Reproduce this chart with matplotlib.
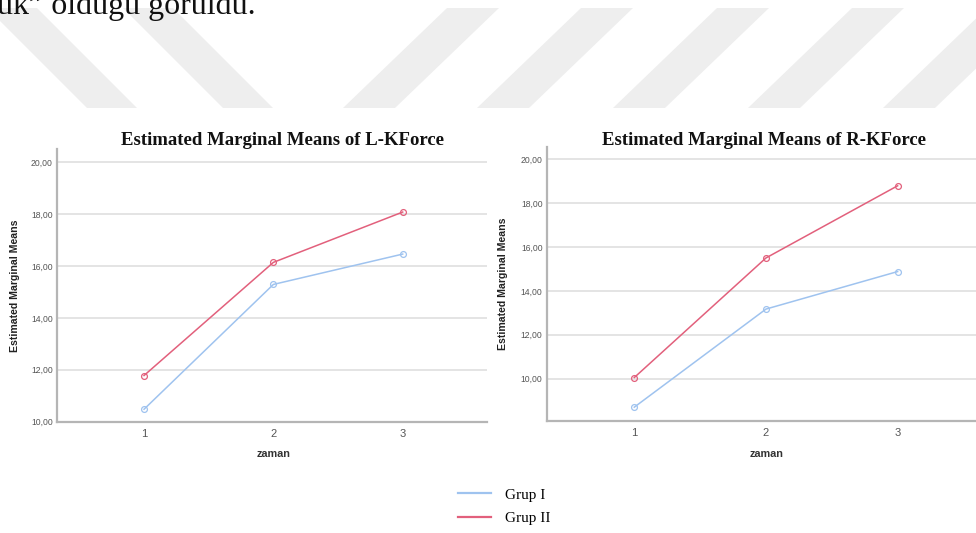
import matplotlib
matplotlib.use("Agg")
import matplotlib.pyplot as plt
from matplotlib.lines import Line2D
from matplotlib.patches import Polygon

# ---------------- data ----------------
zaman = [1, 2, 3]
xtick_labels = ["1", "2", "3"]
yticks = [10, 12, 14, 16, 18, 20]
groups = ["Grup I", "Grup II"]

l_grup1 = [10.48, 15.29, 16.46]
l_grup2 = [11.78, 16.14, 18.08]
r_grup1 = [8.70, 13.17, 14.88]
r_grup2 = [10.05, 15.50, 18.79]

titles = ["Estimated Marginal Means of L-KForce", "Estimated Marginal Means of R-KForce"]
ylabel = "Estimated Marginal Means"
xlabel = "zaman"
top_text = "uk\u201d olduğu görüldü."

# ---------------- style ----------------
W, H = 976, 533
blue = "#9fc3ef"
red = "#e2607c"
grid_c = "#dcdcdc"
spine_c = "#b5b5b5"
tick_c = "#555555"
sans = ["Liberation Sans", "DejaVu Sans"]
serif = ["Liberation Serif", "DejaVu Serif"]

fig = plt.figure(figsize=(W / 100, H / 100), dpi=100)
fig.patch.set_facecolor("white")

# watermark stripes (background decoration)
bg = fig.add_axes([0, 0, 1, 1], zorder=-10)
bg.set_xlim(0, W)
bg.set_ylim(H, 0)
bg.axis("off")
wm = "#eeeeee"
for xb in [87, 223]:          # "\" stripes, bottom-left x at y=108
    bg.add_patch(Polygon([(xb - 100, 8), (xb - 100 + 50, 8), (xb + 50, 108), (xb, 108)],
                         closed=True, facecolor=wm, edgecolor="none"))
for xb in [343, 477, 613, 748, 883]:   # "/" stripes
    bg.add_patch(Polygon([(xb + 104, 8), (xb + 104 + 52, 8), (xb + 52, 108), (xb, 108)],
                         closed=True, facecolor=wm, edgecolor="none"))

fig.text(-0.003, 1 - 14 / H, top_text, family=serif, fontsize=23, va="baseline", ha="left",
         color="#111111")


def fmt(v):
    return f"{v:.2f}".replace(".", ",")


def make_axes(rect_px, ylim, xlim, g1, g2, ylab_x, xlab_pos):
    x0, y0, x1, y1 = rect_px  # left, top, right, bottom in pixels
    ax = fig.add_axes([x0 / W, 1 - y1 / H, (x1 - x0) / W, (y1 - y0) / H])
    ax.set_facecolor("white")
    ax.plot(zaman, g1, color=blue, lw=1.1, marker="o", ms=4.2, mfc="none", mec=blue, mew=0.9,
            zorder=3, label=groups[0])
    ax.plot(zaman, g2, color=red, lw=1.1, marker="o", ms=4.2, mfc="none", mec=red, mew=0.9,
            zorder=3, label=groups[1])
    ax.set_xlim(*xlim)
    ax.set_ylim(*ylim)
    ax.set_yticks(yticks)
    ax.set_yticklabels([fmt(v) for v in yticks], family=sans, fontsize=6.2, color=tick_c)
    ax.set_xticks(zaman)
    ax.set_xticklabels(xtick_labels, family=sans, fontsize=8, color=tick_c)
    ax.tick_params(axis="both", length=0)
    ax.tick_params(axis="y", pad=3)
    ax.tick_params(axis="x", pad=5)
    ax.grid(axis="y", color=grid_c, lw=1.1)
    ax.set_axisbelow(True)
    for s in ["top", "right"]:
        ax.spines[s].set_visible(False)
    for s in ["left", "bottom"]:
        ax.spines[s].set_color(spine_c)
        ax.spines[s].set_linewidth(1.6)
    ax.set_ylabel(ylabel, family=sans, fontsize=7.6, fontweight="bold", color="#222222")
    ax.yaxis.set_label_coords(ylab_x, 0.5)
    ax.yaxis.label.set_va("center")
    ax.set_xlabel(xlabel, family=sans, fontsize=7.8, fontweight="bold", color="#333333")
    ax.xaxis.set_label_coords(*xlab_pos)
    ax.xaxis.label.set_va("center")
    return ax


axL = make_axes((57, 149, 487, 421.7), (10.0, 20.51), (0.327, 3.652), l_grup1, l_grup2,
                -0.0977, (0.503, -0.1185))
axR = make_axes((546.7, 146.7, 976, 421), (8.07, 20.57), (0.335, 3.595), r_grup1, r_grup2,
                -0.1018, (0.5115, -0.121))

fig.text(282.5 / W, 1 - 145 / H, titles[0], family=serif, fontsize=13.5, fontweight="bold",
         ha="center", va="baseline", color="#111111")
fig.text(764 / W, 1 - 145 / H, titles[1], family=serif, fontsize=13.5, fontweight="bold",
         ha="center", va="baseline", color="#111111")

handles = [Line2D([], [], color=blue, lw=1.6), Line2D([], [], color=red, lw=1.6)]
fig.legend(handles, groups, loc="center left", bbox_to_anchor=(458 / W, 1 - 506.5 / H),
           frameon=False, prop={"family": serif, "size": 11}, handlelength=2.15,
           handletextpad=0.9, labelspacing=0.65, borderpad=0, borderaxespad=0)

fig.savefig("out.png", dpi=100, facecolor="white")
